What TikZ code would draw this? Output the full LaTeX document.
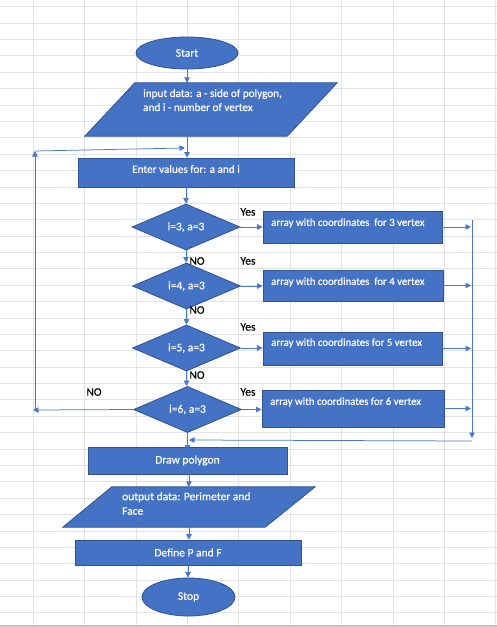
\documentclass[tikz,border=0pt]{standalone}
\usepackage{fontspec}
\setmainfont{Carlito}[FakeBold=0.5]
\usetikzlibrary{shapes.geometric,arrows.meta}
\definecolor{ofblue}{HTML}{4472C4}
\definecolor{ofborder}{HTML}{2F528F}
\definecolor{gridc}{HTML}{E3E3E3}
\definecolor{lnc}{HTML}{4A78C8}
\tikzset{
  shp/.style={fill=ofblue, draw=ofborder, line width=0.8pt, text=white, inner sep=0pt, font=\fontsize{11.5}{14}\selectfont},
  rbox/.style={shp, rectangle},
  oval/.style={shp, ellipse},
  dia/.style={shp, diamond, minimum width=108pt, minimum height=45pt},
  inv/.style={rectangle, inner sep=0pt},
  wtxt/.style={text=white, inner sep=0pt, font=\fontsize{11.2}{14}\selectfont, align=left},
  btxt/.style={text=black, inner sep=0pt, font=\fontsize{11.5}{14}\selectfont},
  conn/.style={draw=lnc, line width=0.75pt, -{Triangle[length=5.5pt,width=5.5pt]}},
  plain/.style={draw=lnc, line width=0.75pt}
}
\begin{document}
\begin{tikzpicture}[x=1pt,y=-1pt]
\useasboundingbox (0,0) rectangle (497,627);
\fill[white] (0,0) rectangle (497,627);
% spreadsheet grid
\foreach \k in {0,...,37} {\draw[gridc, line width=0.9pt] (0,6.8+16.38*\k) -- (497,6.8+16.38*\k);}
\foreach \k in {0,...,9} {\draw[gridc, line width=0.9pt] (33.3+51.4*\k,0) -- (33.3+51.4*\k,625);}
\draw[gray!45, line width=2pt] (0,626) -- (497,626);

% nodes
\node[oval, minimum width=102pt, minimum height=32pt] (start) at (187,53) {Start};

\node[inv, minimum width=252pt, minimum height=53pt] (inp) at (211,109.5) {};
\filldraw[shp] ([xshift=50pt]inp.north west) -- (inp.north east) -- ([xshift=-50pt]inp.south east) -- (inp.south west) -- cycle;
\node[wtxt, anchor=north west] (inptxt) at (143,89) {input data: a - side of polygon,\\and i - number of vertex};

\node[rbox, minimum width=216pt, minimum height=29pt] (enter) at (186,172.5) {};
\node[wtxt] (entertxt) at (186,169) {Enter values for: a and i};

\node[dia] (d1) at (186,227) {i=3, a=3};
\node[dia] (d2) at (186.5,286) {i=4, a=3};
\node[dia] (d3) at (186.5,348) {i=5, a=3};
\node[dia] (d4) at (187.5,409.5) {i=6, a=3};

\node[rbox, minimum width=179pt, minimum height=32pt] (b1) at (352.5,227) {};
\node[rbox, minimum width=180pt, minimum height=31pt] (b2) at (353,285.5) {};
\node[rbox, minimum width=179pt, minimum height=33pt] (b3) at (352.5,348.5) {};
\node[rbox, minimum width=182pt, minimum height=37pt] (b4) at (353,408.5) {};
\node[wtxt, anchor=west, font=\fontsize{10.8}{13}\selectfont] (b1t) at (271,223) {array with coordinates\ \ for 3 vertex};
\node[wtxt, anchor=west, font=\fontsize{10.8}{13}\selectfont] (b2t) at (271,282) {array with coordinates\ \ for 4 vertex};
\node[wtxt, anchor=west, font=\fontsize{10.8}{13}\selectfont] (b3t) at (271,343) {array with coordinates for 5 vertex};
\node[wtxt, anchor=west, font=\fontsize{10.8}{13}\selectfont] (b4t) at (270,402) {array with coordinates for 6 vertex};

\node[rbox, minimum width=199pt, minimum height=27pt] (drawp) at (187.5,460.5) {Draw polygon};

\node[inv, minimum width=252pt, minimum height=40pt] (outp) at (189,507) {};
\filldraw[shp] ([xshift=49pt]outp.north west) -- (outp.north east) -- ([xshift=-50pt]outp.south east) -- (outp.south west) -- cycle;
\node[wtxt, anchor=north west, font=\fontsize{11.5}{14.5}\selectfont] (outtxt) at (122,492) {output data: Perimeter and\\Face};

\node[rbox, minimum width=226pt, minimum height=25pt] (def) at (188,552.5) {Define P and F};
\node[oval, minimum width=93pt, minimum height=38pt] (stop) at (188.5,597) {Stop};

% labels
\node[btxt] (y1) at (248,212) {Yes};
\node[btxt] (y2) at (248,261) {Yes};
\node[btxt] (y3) at (248,327) {Yes};
\node[btxt] (y4) at (248,392) {Yes};
\node[btxt] (n1) at (197,261) {NO};
\node[btxt] (n2) at (197,310) {NO};
\node[btxt] (n3) at (197,375) {NO};
\node[btxt] (n4) at (94,392) {NO};

% helper coordinates
\coordinate (rv) at (472,0);
\coordinate (rtop) at (472,220);
\coordinate (rbot) at (472,438);
\coordinate (rcor) at (472,441);
\coordinate (mj) at (189,440);
\coordinate (lA) at (33,410);
\coordinate (lB) at (35,410);
\coordinate (lC) at (35,151);
\coordinate (lD) at (185,148);

% connectors
\draw[conn] (start.south) -- (start.south |- inp.north);
\draw[conn] (start.south |- inp.south) -- (start.south |- enter.north);
\draw[conn] (enter.south -| d1.north) -- (d1.north);
\draw[conn] (d1.south) -- (d1.south |- d2.north);
\draw[conn] (d2.south) -- (d2.south |- d3.north);
\draw[conn] (d3.south) -- (d3.south |- d4.north);
\draw[conn] (d4.south) -- ([yshift=-4pt]d4.south |- drawp.north);

\draw[conn] (d1.east) -- (d1.east -| b1.west);
\draw[conn] (d2.east) -- (d2.east -| b2.west);
\draw[conn] (d3.east) -- (d3.east -| b3.west);
\draw[conn] (d4.east) -- (d4.east -| b4.west);
\draw[conn] (b1.east) -- ([xshift=-1pt]b1.east -| rv);
\draw[conn] (b2.east) -- ([xshift=-1pt]b2.east -| rv);
\draw[conn] (b3.east) -- ([xshift=-1pt]b3.east -| rv);
\draw[conn] (b4.east) -- ([xshift=-1pt]b4.east -| rv);
\draw[conn] (rtop) -- (rbot);
\draw[conn] (rcor) -- (mj);

\draw[conn] (d4.west) -- (lA);
\draw[conn] (lB) -- (lC);
\draw[conn] (lC) -- (lD);

\draw[conn] (drawp.south -| outp.north) -- (outp.north);
\draw[conn] (outp.south) -- (outp.south |- def.north);
\draw[conn] (def.south) -- (def.south |- stop.north);
\end{tikzpicture}
\end{document}
